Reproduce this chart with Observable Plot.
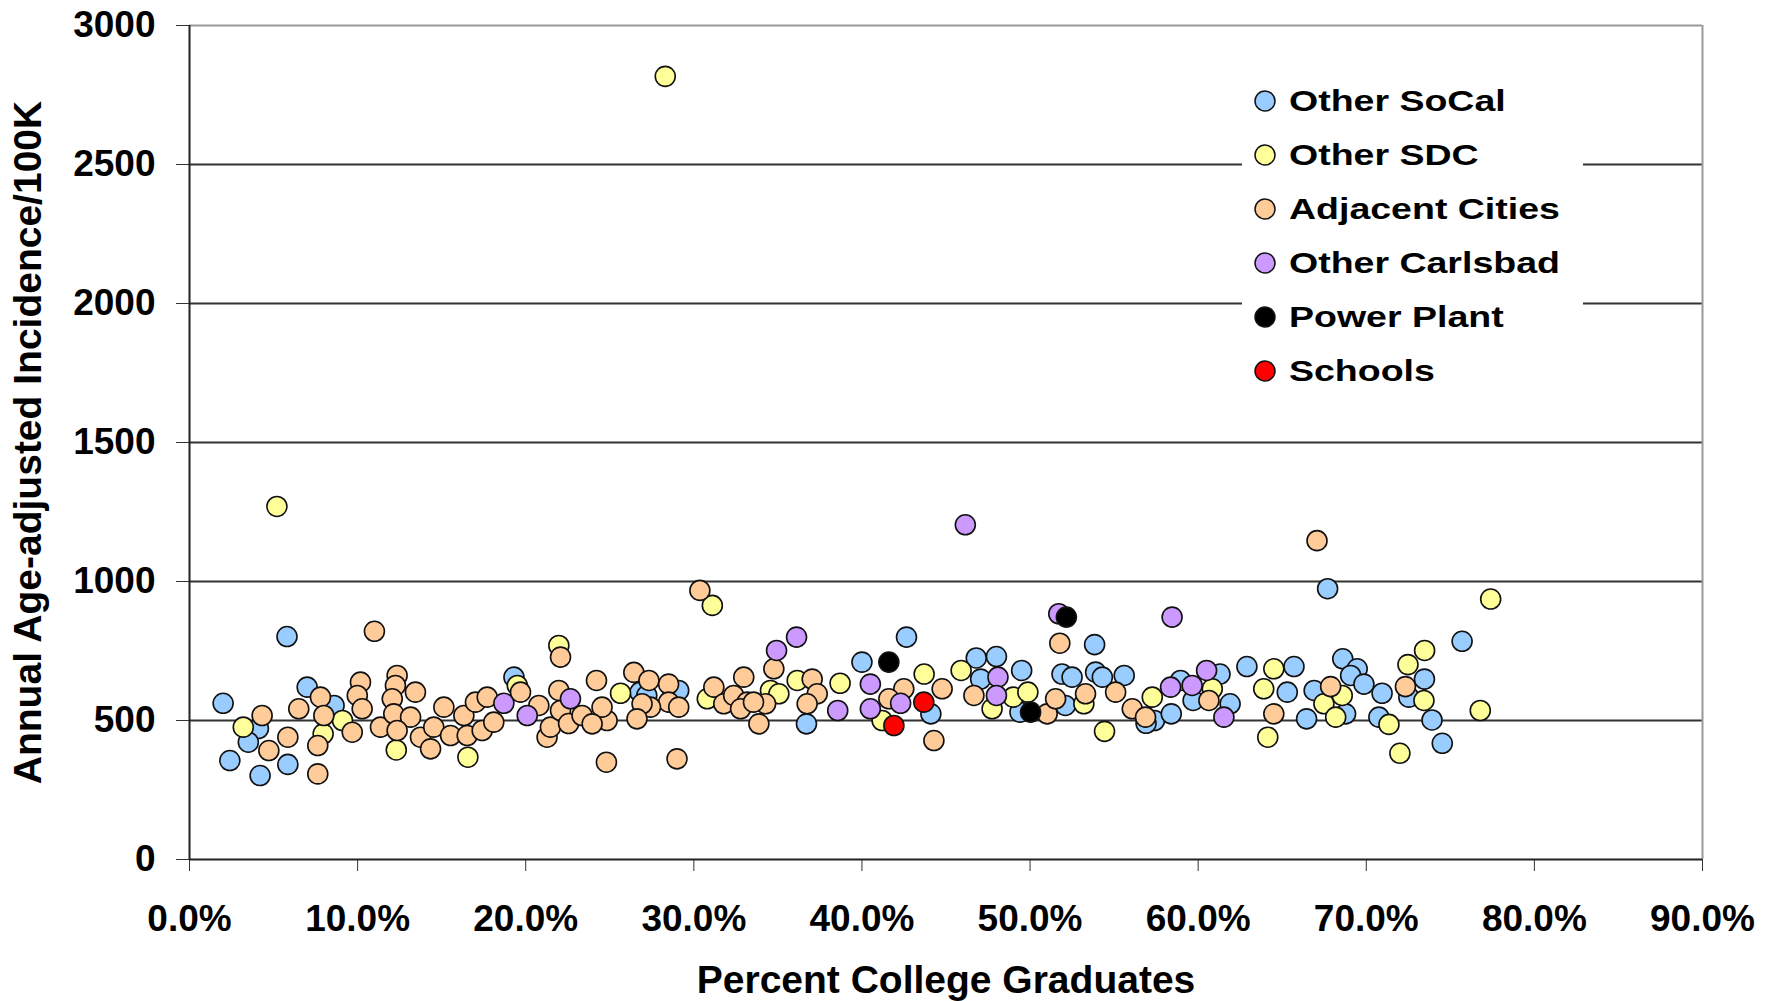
<!DOCTYPE html>
<html>
<head>
<meta charset="utf-8">
<script src="https://cdn.jsdelivr.net/npm/d3@7"></script>
<script src="https://cdn.jsdelivr.net/npm/@observablehq/plot@0.6"></script>
<style>
  html, body { margin: 0; padding: 0; background: #fff; }
  #wrap { position: relative; width: 1779px; height: 1001px; overflow: hidden; }
  #legend {
    position: absolute; left: 1242px; top: 74px; width: 341px; height: 323px;
    background: #fff; box-sizing: border-box; padding-top: 0px;
    font-family: "Liberation Sans", Arial, sans-serif; font-weight: bold; font-size: 30px; color: #000;
  }
  .row { height: 54px; display: flex; align-items: center; position: relative; }
  .row svg { position: absolute; left: 11px; top: 15px; }
  .row span { position: absolute; left: 47px; display: inline-block; transform: scaleX(1.25); transform-origin: left center; white-space: nowrap; line-height: 54px; }
</style>
</head>
<body>
<div id="wrap"></div>
<script>
// ---- data (x = percent college graduates, y = annual age-adjusted incidence/100K)
const seriesNames = ["Other SoCal", "Other SDC", "Adjacent Cities", "Other Carlsbad", "Power Plant", "Schools"];
const seriesColors = ["#99CCFF", "#FFFF99", "#FFCC99", "#CC99FF", "#000000", "#FF0000"];

const otherSoCal = [
  [5.8,802],[2.0,562],[7.0,620],[8.6,554],[4.1,471],[3.5,422],[2.4,356],[4.2,302],[5.85,342],[19.3,656],
  [26.8,602],[27.2,590],[29.1,608],[42.65,800],[40.0,710],[36.7,488],[44.1,524],
  [67.7,974],[53.84,773],[46.8,725],[48.0,730],[49.5,680],[47.06,649],[51.9,667],[52.5,656],[53.9,674],
  [54.3,656],[55.6,662],[49.4,530],[52.1,554],[57.4,500],[56.9,490],[58.4,524],[58.95,644],[59.7,572],
  [61.3,667],[61.9,560],[62.9,694],[65.7,694],[65.3,602],[66.45,506],[66.9,608],[68.6,722],
  [75.7,785],[69.46,686],[69.07,662],[69.86,631],[70.94,598],[73.46,649],[72.53,584],[68.77,524],
  [70.75,512],[73.91,502],[74.52,418]
];
const otherSDC = [
  [28.3,2817],[5.2,1270],[77.4,937],
  [3.2,476],[7.95,452],[9.1,500],[12.3,394],[16.56,368],[19.5,626],[21.97,770],
  [31.1,914],[43.7,667],[38.7,634],[36.15,644],[41.2,500],[45.9,680],[25.64,598],[30.8,578],[34.56,608],[35.06,596],
  [49.0,584],[49.87,602],[47.74,542],[53.2,560],[54.43,461],[57.27,584],[60.84,614],[64.5,686],[63.9,614],
  [64.14,440],[67.48,560],[68.18,512],
  [73.47,752],[72.48,701],[68.57,590],[73.43,572],[71.35,486],[76.78,536],[72.0,382]
];
const adjacentCities = [
  [11.0,821],[22.07,728],[7.79,584],[6.5,542],[4.32,518],[4.72,392],[5.85,440],[7.63,308],[7.63,410],[7.99,518],
  [9.68,458],[10.17,638],[9.98,590],[10.27,542],[11.36,476],[12.35,662],[12.25,626],[12.06,578],[13.44,602],
  [12.15,524],[13.15,512],[12.35,464],[13.74,440],[14.34,398],[14.53,476],[15.13,548],[15.53,446],[16.32,518],
  [16.52,446],[17.01,566],[17.71,584],[17.41,464],[18.1,494],[19.69,602],[20.78,554],[21.27,440],[21.47,476],
  [21.97,608],[22.07,536],[22.55,489],
  [30.36,968],[34.76,686],[37.04,649],[37.34,596],[36.74,560],[42.49,614],[41.6,578],[44.77,614],[44.28,428],
  [29.0,362],[24.8,350],[24.21,644],[26.43,673],[27.33,644],[28.5,631],[28.5,566],[29.1,548],[27.42,548],
  [26.92,560],[26.62,506],[24.84,500],[24.54,548],[23.35,518],[23.95,488],[31.19,620],[31.78,560],[32.97,656],
  [32.37,590],[33.17,566],[32.78,542],[33.87,488],[34.27,560],[33.55,566],
  [51.77,778],[46.66,590],[51.02,524],[51.52,578],[53.3,596],[55.09,602],[56.08,542],[56.87,512],[60.64,572],
  [64.5,524],[67.88,622],[72.33,622],[67.07,1147]
];
const otherCarlsbad = [
  [46.15,1204],[58.45,872],[51.71,884],[18.7,562],[20.09,518],[22.66,578],[36.11,800],[34.92,752],[40.5,631],
  [38.56,536],[40.5,542],[42.3,562],[48.09,656],[48.0,590],[58.36,620],[59.64,626],[60.5,680],[61.53,512]
];
const powerPlant = [[41.6,710],[52.16,872],[50.03,530]];
const schools = [[43.68,566],[41.9,482]];

const xTicks = [0, 0.1, 0.2, 0.3, 0.4, 0.5, 0.6, 0.7, 0.8, 0.9];
const yTicks = [0, 500, 1000, 1500, 2000, 2500, 3000];
const gridValues = [500, 1000, 1500, 2000, 2500];

// ---- table
const seriesData = [otherSoCal, otherSDC, adjacentCities, otherCarlsbad, powerPlant, schools];
const table = [];
seriesData.forEach((arr, i) => arr.forEach(([p, v]) => table.push({series: seriesNames[i], pct: p / 100, value: v})));

const chart = Plot.plot({
  width: 1779,
  height: 1001,
  marginLeft: 189,
  marginRight: 77,
  marginTop: 25,
  marginBottom: 142,
  style: {fontFamily: "'Liberation Sans', Arial, sans-serif", fontWeight: "bold", fontSize: "37px", color: "#000", background: "#fff"},
  x: {domain: [0, 0.9]},
  y: {domain: [0, 3000]},
  color: {domain: seriesNames, range: seriesColors},
  marks: [
    Plot.ruleY(gridValues, {stroke: "#333", strokeWidth: 2}),
    Plot.ruleY([3000], {stroke: "#999", strokeWidth: 2}),
    Plot.ruleX([0.9], {stroke: "#999", strokeWidth: 2}),
    Plot.axisX({ticks: xTicks, tickFormat: d3.format(".1%"), tickSize: 12, tickPadding: 33, stroke: "#333",
      label: "Percent College Graduates", labelAnchor: "center", labelOffset: 133, labelArrow: "none"}),
    Plot.axisY({ticks: yTicks, tickFormat: d3.format("d"), tickSize: 13, tickPadding: 21, stroke: "#333",
      label: "Annual Age-adjusted Incidence/100K", labelAnchor: "center", labelOffset: 176, labelArrow: "none"}),
    Plot.ruleX([0], {stroke: "#222", strokeWidth: 2}),
    Plot.ruleY([0], {stroke: "#222", strokeWidth: 2}),
    Plot.dot(table, {x: "pct", y: "value", fill: "series", stroke: "#111", strokeWidth: 1.6, r: 10})
  ]
});

// axis titles are slightly larger than the tick labels
chart.querySelectorAll('g[aria-label="x-axis label"], g[aria-label="y-axis label"]').forEach(g => g.style.fontSize = "39px");

const wrap = document.getElementById("wrap");
wrap.appendChild(chart);

// ---- legend overlay (inside plot area, white box)
const legend = document.createElement("div");
legend.id = "legend";
seriesNames.forEach((name, i) => {
  const row = document.createElement("div");
  row.className = "row";
  row.innerHTML = `<svg width="24" height="24"><circle cx="12" cy="12" r="10" fill="${seriesColors[i]}" stroke="#111" stroke-width="1.5"/></svg><span>${name}</span>`;
  legend.appendChild(row);
});
wrap.appendChild(legend);
</script>
</body>
</html>
